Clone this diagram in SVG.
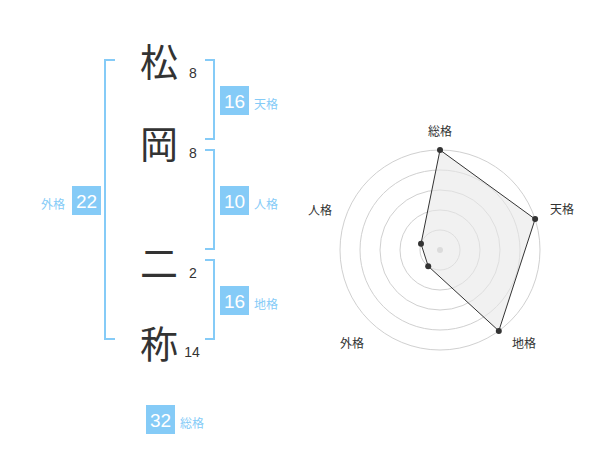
<svg xmlns="http://www.w3.org/2000/svg" width="600" height="470" viewBox="0 0 600 470">
<style>
.kanji{font-family:"Noto Sans CJK JP","Noto Sans CJK SC",sans-serif;font-size:38px;fill:#333;text-anchor:middle;dominant-baseline:central}
.cnt{font-family:"Liberation Sans",Arial,sans-serif;font-size:14px;fill:#333;text-anchor:middle}
.br{fill:none;stroke:#85cbf7;stroke-width:2}
.box{fill:#85cbf7}
.bnum{font-family:"Liberation Sans",Arial,sans-serif;font-size:19px;fill:#fff;text-anchor:middle;dominant-baseline:central}
.tag{font-family:"Noto Sans CJK JP","Noto Sans CJK SC",sans-serif;font-size:12px;fill:#85cbf7;dominant-baseline:central}
.ring{fill:none;stroke:#d0d0d0;stroke-width:1}
.axl{font-family:"Noto Sans CJK JP","Noto Sans CJK SC",sans-serif;font-size:12px;fill:#333;text-anchor:middle;dominant-baseline:central}
.pt{fill:#333}
</style>
<g id="connectors">
<path class="br" d="M115,60 H105 V339 H115"/>
<path class="br" d="M205,60 H214 V139 H205"/>
<path class="br" d="M205,150 H214 V249 H205"/>
<path class="br" d="M205,260 H214 V339 H205"/>
</g>
<g id="char-matsu"><text class="kanji" x="159" y="59">松</text><text class="cnt" x="193" y="78">8</text></g>
<g id="char-oka"><text class="kanji" x="159" y="141">岡</text><text class="cnt" x="193" y="158">8</text></g>
<g id="char-ni"><text class="kanji" x="159" y="260">二</text><text class="cnt" x="193" y="278">2</text></g>
<g id="char-sho"><text class="kanji" x="159" y="341">称</text><text class="cnt" x="192" y="357">14</text></g>
<g id="tenkaku"><rect class="box" x="220" y="86" width="29" height="29"/><text class="bnum" x="234.5" y="101">16</text><text class="tag" x="254" y="103">天格</text></g>
<g id="jinkaku"><rect class="box" x="220" y="186" width="29" height="29"/><text class="bnum" x="234.5" y="201">10</text><text class="tag" x="254" y="203">人格</text></g>
<g id="chikaku"><rect class="box" x="220" y="286" width="29" height="29"/><text class="bnum" x="234.5" y="301">16</text><text class="tag" x="254" y="303">地格</text></g>
<g id="gaikaku"><rect class="box" x="72" y="186" width="29" height="29"/><text class="bnum" x="86.5" y="201">22</text><text class="tag" x="65" y="203" text-anchor="end">外格</text></g>
<g id="soukaku"><rect class="box" x="146" y="405" width="29" height="29"/><text class="bnum" x="160.5" y="420">32</text><text class="tag" x="180" y="422">総格</text></g>
<g id="radar">
<circle class="ring" cx="440" cy="250" r="20"/>
<circle class="ring" cx="440" cy="250" r="40"/>
<circle class="ring" cx="440" cy="250" r="60"/>
<circle class="ring" cx="440" cy="250" r="80"/>
<circle class="ring" cx="440" cy="250" r="100"/>
<circle cx="440" cy="250" r="3" fill="#c8c8c8"/>
<polygon points="440,150 535.1,219.1 498.8,330.9 428.2,266.2 421,243.8" fill="#e8e8e8" fill-opacity="0.6" stroke="#333" stroke-width="1"/>
<circle class="pt" cx="440" cy="150" r="3"/>
<circle class="pt" cx="535.1" cy="219.1" r="3"/>
<circle class="pt" cx="498.8" cy="330.9" r="3"/>
<circle class="pt" cx="428.2" cy="266.2" r="3"/>
<circle class="pt" cx="421" cy="243.8" r="3"/>
<text class="axl" x="440" y="130">総格</text>
<text class="axl" x="562" y="208">天格</text>
<text class="axl" x="524" y="342">地格</text>
<text class="axl" x="352" y="342">外格</text>
<text class="axl" x="320" y="209">人格</text>
</g>
</svg>
